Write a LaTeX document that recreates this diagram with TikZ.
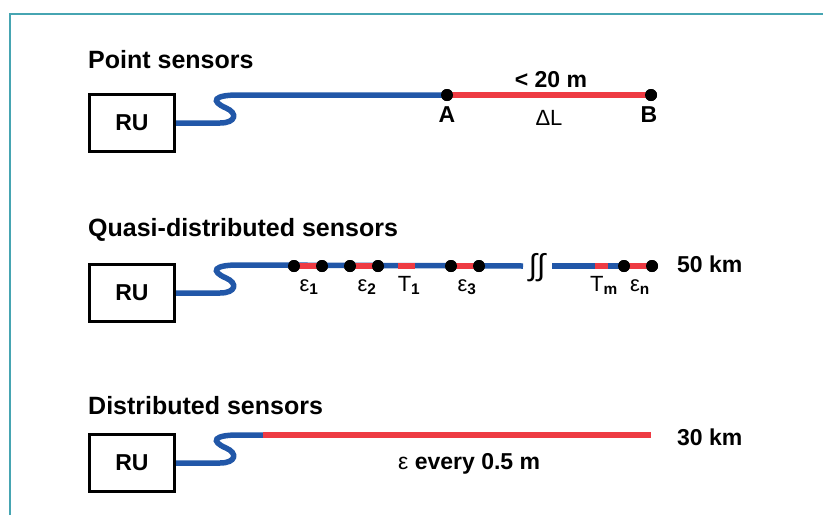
\documentclass[tikz,border=0pt]{standalone}
\usepackage{fontspec}
\setmainfont{Liberation Sans}
\definecolor{cblue}{RGB}{33,87,168}
\definecolor{cred}{RGB}{238,59,67}
\definecolor{teal2}{RGB}{70,165,178}
\begin{document}
\begin{tikzpicture}[x=1pt,y=-1pt,
  ttl/.style={font=\fontsize{25}{28}\selectfont\bfseries, anchor=base west, inner sep=0pt},
  rubox/.style={draw, line width=3pt, minimum width=85pt, minimum height=57pt, inner sep=0pt,
    font=\fontsize{23}{26}\selectfont\bfseries},
  cable/.style={line width=5.5pt, draw=cblue},
  redseg/.style={line width=5.5pt, draw=cred},
  sdot/.style={circle, fill=black, inner sep=0pt, minimum size=12pt},
  blbl/.style={font=\fontsize{23}{26}\selectfont\bfseries, anchor=base, inner sep=0pt},
  rlbl/.style={font=\fontsize{22}{24}\selectfont, anchor=base, inner sep=0pt}
]
\useasboundingbox (0,0) rectangle (823,515);
% frame
\draw[teal2, line width=1.5pt] (10,515) -- (10,14) -- (823,14);

% ---------- Point sensors ----------
\node[ttl] (t1) at (88,68) {Point sensors};
\node[rubox] (ru1) at (132,123) {RU};
\node[sdot] (A) at (447,95) {};
\node[sdot] (B) at (651,95) {};
\draw[cable] (ru1.east) -- ++(44,0) .. controls +(16,0) and +(12,5) .. ++(6,-15)
  .. controls +(-16,-7) and +(-24,0) .. ++(12,-13) -- (A.center);
\draw[redseg] (A.center) -- (B.center);
\node[sdot] at (A) {};
\node[sdot] at (B) {};
\node[blbl] (la) at (447,122) {A};
\node[blbl] (lb) at (649,122) {B};
\node[blbl] (l20) at (551,87) {< 20 m};
\node[rlbl] (dl) at (549,125) {ΔL};

% ---------- Quasi-distributed sensors ----------
\node[ttl] (t2) at (88,236) {Quasi-distributed sensors};
\node[rubox] (ru2) at (132,293) {RU};
\coordinate (q1end) at (523,266);
\coordinate (q2start) at (552,266);
\coordinate (ta) at (398,266);
\coordinate (tb) at (415,266);
\coordinate (tma) at (595,266);
\coordinate (tmb) at (608,266);
\node[sdot] (e1a) at (294,266) {};
\node[sdot] (e1b) at (322,266) {};
\node[sdot] (e2a) at (350,266) {};
\node[sdot] (e2b) at (378,266) {};
\node[sdot] (e3a) at (451,266) {};
\node[sdot] (e3b) at (479,266) {};
\node[sdot] (ena) at (624,266) {};
\node[sdot] (enb) at (652,266) {};
\draw[cable] (ru2.east) -- ++(44,0) .. controls +(16,0) and +(12,5) .. ++(6,-15)
  .. controls +(-16,-7) and +(-24,0) .. ++(12,-13) -- (q1end);
\draw[cable] (q2start) -- (ena.center);
\draw[redseg] (e1a.center) -- (e1b.center);
\draw[redseg] (e2a.center) -- (e2b.center);
\draw[redseg] (ta) -- (tb);
\draw[redseg] (e3a.center) -- (e3b.center);
\draw[redseg] (tma) -- (tmb);
\draw[redseg] (ena.center) -- (enb.center);
\foreach \d in {e1a,e1b,e2a,e2b,e3a,e3b,ena,enb} \node[sdot] at (\d) {};
\node[font=\fontsize{30}{32}\selectfont, inner sep=0pt] (brk) at (537,268) {∫∫};
\node[rlbl] (le1) at (309,291) {ε\textsubscript{\bfseries 1}};
\node[rlbl] (le2) at (367,291) {ε\textsubscript{\bfseries 2}};
\node[rlbl] (lt1) at (409,291) {T\textsubscript{\bfseries 1}};
\node[rlbl] (le3) at (467,291) {ε\textsubscript{\bfseries 3}};
\node[rlbl] (ltm) at (604,291) {T\textsubscript{\bfseries m}};
\node[rlbl] (len) at (640,291) {ε\textsubscript{\bfseries n}};
\node[blbl, anchor=base west] (l50) at (677,272) {50 km};

% ---------- Distributed sensors ----------
\node[ttl] (t3) at (88,414) {Distributed sensors};
\node[rubox] (ru3) at (132,463) {RU};
\coordinate (dsplit) at (263,435);
\coordinate (dend) at (651,435);
\draw[cable] (ru3.east) -- ++(44,0) .. controls +(16,0) and +(12,5) .. ++(6,-15)
  .. controls +(-16,-7) and +(-24,0) .. ++(12,-13) -- (dsplit);
\draw[redseg] (dsplit) -- (dend);
\node[blbl, anchor=base west] (l30) at (677,445) {30 km};
\node[blbl, anchor=base west] (lev) at (398,469) {\mdseries ε \bfseries every 0.5 m};
\end{tikzpicture}
\end{document}
